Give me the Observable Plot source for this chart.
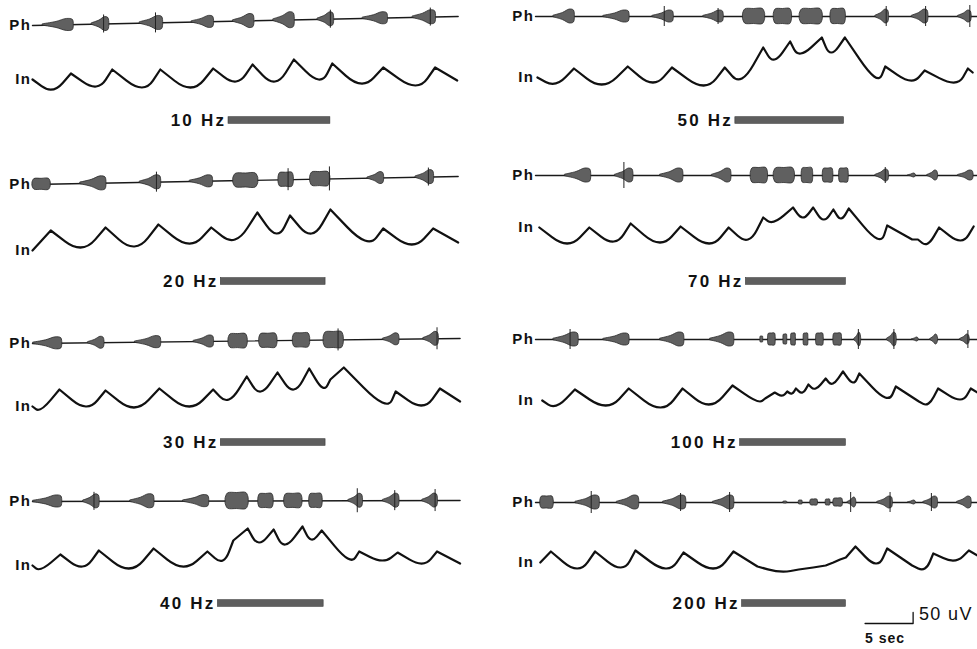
<!DOCTYPE html>
<html><head><meta charset="utf-8">
<script src="https://cdn.jsdelivr.net/npm/d3@7"></script>
<script src="https://cdn.jsdelivr.net/npm/@observablehq/plot@0.6"></script>
<style>
body{margin:0;background:#fff;}
#chart svg{display:block;}
</style></head><body><div id="chart"></div><script>
// ---- panel descriptors ----
const panelLabels = ["10 Hz","20 Hz","30 Hz","40 Hz","50 Hz","70 Hz","100 Hz","200 Hz"];
const panelCols = ["L","L","L","L","R","R","R","R"];
const panelRows = [0,1,2,3,0,1,2,3];
const stimStart = [20.4,19.6,19.6,19.3,20.8,21.9,21.3,21.5];   // s
const stimEnd   = [31.0,30.5,30.5,30.3,32.1,32.3,32.3,32.3];   // s
const phBaseStart = [-8,-6,-4,-1,1,3,0,-2];
const phBaseEnd   = [1,2,1,0,1,3,0,-2];
const traceEnd = [44.3,44.3,44.5,44.5,46,46,46,46];

// ---- In (inspiratory) traces: [time s, level] ----
const in10 = [[0,8],[2.1,-2],[4.0,14],[6.8,1],[8.3,18],[11.6,0],[13.3,18],[16.6,0],[18.8,19],[21.3,6],[22.9,23],[25.3,6],[27.2,28],[30.0,8],[31.2,24],[34.3,4],[36.5,20],[40.1,2],[41.9,20],[44.2,7]];
const in20 = [[0,-2],[1.9,18],[5.2,1],[7.6,21],[10.7,2],[13.1,24],[16.4,5],[18.6,21],[21.1,9],[23.4,36],[25.5,15],[26.8,33],[29.1,15],[31.0,39],[34.9,8],[36.5,20],[39.6,4],[41.7,20],[44.3,6]];
const in30 = [[0,3],[0.8,1],[2.8,20],[5.7,3],[7.6,19],[10.7,2],[13.2,21],[16.4,3],[18.8,20],[20.4,10],[22.3,33],[23.7,18],[25.5,37],[27.2,20],[28.8,41],[30.3,22],[31.0,30],[32.4,42],[36.9,7],[37.8,18],[40.7,4],[42.4,21],[44.5,8]];
const in40 = [[0,5],[0.8,2],[2.9,16],[5.3,4],[6.9,20],[10.2,2],[12.6,22],[15.7,4],[18.2,19],[19.9,10],[20.9,30],[22.4,42],[23.5,28],[25.1,41],[26.2,26],[28.1,44],[29.0,31],[30.1,40],[33.1,12],[34.0,19],[36.5,10],[38.0,18],[40.7,7],[42.1,19],[44.5,7]];
const in50 = [[0.2,10],[2.1,4],[4.0,19],[7.0,3],[9.6,21],[12.3,5],[14.2,20],[17.7,2],[19.7,20],[21.4,9],[23.7,40],[24.8,28],[26.5,46],[27.4,34],[29.8,50],[30.7,35],[32.2,50],[35.6,11],[36.4,21],[39.2,7],[40.5,17],[43.9,5],[45.0,19],[45.5,15]];
const in70 = [[0.4,21],[3.4,5],[5.6,21],[8.3,7],[9.9,25],[13.0,6],[15.1,22],[18.2,5],[20.1,21],[22.2,9],[23.7,31],[24.7,27],[26.8,41],[27.8,31],[28.9,41],[30.0,29],[31.0,39],[31.8,30],[32.6,40],[35.9,10],[36.6,23],[39.2,9],[39.8,9],[40.8,5],[42.0,21],[44.4,8],[45.6,22]];
const in100 = [[0.7,9],[2.1,4],[4.1,20],[7.5,4],[9.7,21],[13.2,2],[15.3,21],[18.2,5],[20.5,24],[23.2,9],[23.9,11],[24.9,17],[25.7,14],[26.2,18],[26.7,16],[27.1,21],[27.8,17],[28.4,25],[29.1,21],[30.2,31],[30.9,26],[32.0,38],[33.1,27],[33.7,36],[36.7,12],[37.5,23],[39.9,8],[40.9,6],[41.9,21],[44.4,10],[45.3,21],[46,17]];
const in200 = [[0.5,8],[1.6,19],[4.5,2],[6.2,19],[9.1,3],[10.4,20],[13.8,2],[15.4,18],[18.7,2],[20.6,19],[23.1,4],[25.5,-1],[27.4,1],[28.9,3],[30.2,5],[31.0,8],[31.7,11],[32.3,13],[33.3,24],[35.6,7],[36.6,22],[39.2,5],[40.6,2],[41.4,17],[43.7,10],[45.1,20],[46,15]];

// ---- Ph (phrenic) bursts: [start s, end s, half-amplitude, kind 0=spindle 1=block] ----
const ph10 = [[1.1,4.2,6,0],[6.2,7.9,7,0],[11.2,13.5,7,0],[16.6,18.8,6,0],[20.9,23.0,7,0],[25.1,27.2,8,0],[29.7,31.3,7,0],[34.4,36.9,6,0],[39.6,41.9,7,0]];
const ph20 = [[0,1.9,5.5,1],[5.0,7.6,7,0],[11.2,13.3,7,0],[16.4,18.7,6,0],[20.9,23.5,7,1],[25.6,27.2,7,1],[28.9,31.0,7,1],[34.9,36.5,6,0],[39.9,41.7,7,0]];
const ph30 = [[0.1,3.0,6,0],[5.8,7.4,6,0],[10.7,13.3,6,0],[16.8,18.8,6,0],[20.4,22.4,7,1],[23.6,25.5,7,1],[27.1,28.9,7,1],[30.3,32.4,8,1],[36.5,38.1,6,0],[40.7,42.2,7,0]];
const ph40 = [[0.1,3.0,6,0],[5.3,6.9,7,0],[10.2,12.6,7,0],[15.7,18.3,6,0],[20.1,22.5,8,1],[23.5,25.1,7,1],[26.2,28.1,7,1],[28.8,30.2,7,1],[32.9,34.3,7,0],[36.5,38.1,7,0],[40.6,42.1,7,0]];
const ph50 = [[1.9,4.0,7,0],[7.1,9.7,6,0],[12.2,14.3,6,0],[17.5,19.5,6,0],[21.6,23.9,7.5,1],[24.8,26.7,7.5,1],[27.5,29.9,7.5,1],[30.7,32.3,7.5,1],[35.4,36.7,7,0],[39.2,40.8,7,0],[44.0,45.3,6,0]];
const ph70 = [[3.1,5.7,7,0],[8.3,10.1,7,0],[13.0,15.3,7,0],[18.4,20.3,7,0],[22.4,24.2,7.5,1],[24.8,27.0,7.5,1],[27.7,28.9,7.5,1],[29.9,31.0,7,1],[31.6,32.6,7,1],[35.4,36.7,6,0],[38.8,39.5,2,0],[40.8,41.8,5,0],[44.0,45.5,5,0]];
const ph100 = [[1.9,4.4,7,0],[7.1,9.7,6,0],[13.0,15.4,7,0],[18.2,20.6,7,0],[23.4,23.7,3,1],[24.2,25.0,6,1],[25.8,26.2,5,1],[26.6,27.1,6,1],[27.9,28.4,6,1],[29.2,30.0,6,1],[31.0,31.9,6,1],[33.2,33.8,7,0],[36.6,37.5,7,0],[39.2,39.8,2,0],[41.1,41.8,5,0],[44.2,45.1,5,0]];
const ph200 = [[0.5,1.9,6,1],[4.2,6.6,7,0],[8.5,10.7,7,0],[13.3,15.6,7,0],[18.5,20.6,7,0],[25.8,26.2,1,1],[27.4,27.8,2,1],[28.6,29.4,3,1],[30.2,30.7,3,1],[31.0,32.0,4,1],[32.5,33.3,5,0],[35.6,37.1,6,0],[38.8,39.5,2,0],[40.4,41.8,6,0],[43.9,45.3,6,0]];

// ---- artefact spikes on Ph: [time s, half-height] ----
const spk10 = [[7.4,9],[12.8,10],[31.0,9],[41.4,9]];
const spk20 = [[12.9,10],[26.6,11],[30.9,12],[41.2,9]];
const spk30 = [[31.8,11],[42.1,11]];
const spk40 = [[6.4,9],[33.8,12],[37.7,10],[41.9,11]];
const spk50 = [[13.4,10],[19.0,8],[36.5,10],[40.6,10],[45.2,11]];
const spk70 = [[9.2,13],[36.4,8]];
const spk100 = [[3.6,10],[33.6,10],[37.3,10],[45.0,9]];
const spk200 = [[5.8,11],[15.1,9],[20.2,10],[32.8,10],[36.9,10],[41.2,9]];

// ---- scale bar ----
const scaleSec = 5, scaleSecStart = 34.3;
const scaleUV = 50, scaleUVUnits = 11;

const inTraces = [in10,in20,in30,in40,in50,in70,in100,in200];
const phBursts = [ph10,ph20,ph30,ph40,ph50,ph70,ph100,ph200];
const phSpikes = [spk10,spk20,spk30,spk40,spk50,spk70,spk100,spk200];

// ---- layout constants (y units) ----
const IN_BASE = -70, BAR_Y = -103, BAR_HALF = 3.3;

// custom curve: sharp peaks, broad rounded troughs (pen-recorder look)
function penCurve(context) {
  let pts;
  const f = 0.55;
  return {
    areaStart() {}, areaEnd() {},
    lineStart() { pts = []; },
    point(x, y) { pts.push([+x, +y]); },
    lineEnd() {
      const n = pts.length; if (!n) return;
      context.moveTo(pts[0][0], pts[0][1]);
      for (let i = 1; i < n - 1; i++) {
        const [x0, y0] = pts[i-1], [x1, y1] = pts[i], [x2, y2] = pts[i+1];
        if (y1 > y0 && y1 > y2) {
          const avg0 = (y0 + y2) / 2;
          const yv = (y1 - 0.5 * f * avg0) / (1 - 0.5 * f);   // virtual corner: curve bottom meets the trough
          const ax = x1 + (x0 - x1) * f, ay = yv + (y0 - yv) * f;
          const bx = x1 + (x2 - x1) * f, by = yv + (y2 - yv) * f;
          context.lineTo(ax, ay);
          context.quadraticCurveTo(x1, yv, bx, by);
        } else context.lineTo(x1, y1);
      }
      if (n > 1) context.lineTo(pts[n-1][0], pts[n-1][1]);
    }
  };
}

// ---- build tables ----
const baseAt = (i, t) => phBaseStart[i] + (phBaseEnd[i] - phBaseStart[i]) * t / traceEnd[i];
const phLine = [], inLine = [], burstPts = [], spikes = [], bars = [], chLabels = [];
panelLabels.forEach((lab, i) => {
  const f = {col: panelCols[i], row: panelRows[i], p: i};
  phLine.push({...f, t: 0, y: phBaseStart[i]}, {...f, t: traceEnd[i], y: phBaseEnd[i]});
  inTraces[i].forEach(([t, v]) => inLine.push({...f, t, y: IN_BASE + v}));
  phBursts[i].forEach(([s, e, a, k], j) => {
    const d = e - s, yb = baseAt(i, (s + e) / 2);
    const shape = k === 0
      ? [[s,0.12],[s+0.45*d,0.5],[s+0.8*d,1],[e,0.85],[e+0.1,0.1]]
      : [[s,0.35],[s+0.1*d,0.95],[s+0.5*d,1],[e-0.1*d,1],[e,0.35]];
    shape.forEach(([t, w]) => burstPts.push({...f, id: i*100 + j, t, lo: yb - w*a, hi: yb + w*a}));
  });
  phSpikes[i].forEach(([t, h]) => {
    const yb = baseAt(i, t);
    spikes.push({...f, t, y1: yb - h, y2: yb + h});
  });
  bars.push({...f, x1: stimStart[i], x2: stimEnd[i], label: lab});
  chLabels.push({...f, t: -0.1, y: phBaseStart[i], text: "Ph"});
  chLabels.push({...f, t: -0.1, y: IN_BASE + inTraces[i][0][1], text: "In"});
});
const sb = {col: "R", row: 3};
const scaleLine = [
  {...sb, t: scaleSecStart, y: BAR_Y - 20},
  {...sb, t: scaleSecStart + scaleSec, y: BAR_Y - 20},
  {...sb, t: scaleSecStart + scaleSec, y: BAR_Y - 20 + scaleUVUnits}
];

const chart = Plot.plot({
  width: 977, height: 649,
  marginLeft: 32, marginRight: 0, marginTop: 0, marginBottom: 5,
  fx: {domain: ["L","R"], paddingInner: 0.1213, paddingOuter: 0, axis: null},
  fy: {domain: [0,1,2,3], paddingInner: 0, paddingOuter: 0, axis: null},
  x: {domain: [0, 46], axis: null},
  y: {domain: [-144, 17], axis: null},
  style: {fontFamily: "'Liberation Sans', Arial, Helvetica, sans-serif", background: "#fff"},
  marks: [
    Plot.line(phLine, {x: "t", y: "y", z: "p", fx: "col", fy: "row", stroke: "#1a1a1a", strokeWidth: 1.4}),
    Plot.areaY(burstPts, {x: "t", y1: "lo", y2: "hi", z: "id", fx: "col", fy: "row", fill: "#606060", stroke: "#2a2a2a", strokeWidth: 0.8, curve: "catmull-rom"}),
    Plot.ruleX(spikes, {x: "t", y1: "y1", y2: "y2", fx: "col", fy: "row", stroke: "#222", strokeWidth: 1}),
    Plot.line(inLine, {x: "t", y: "y", z: "p", fx: "col", fy: "row", stroke: "#111", strokeWidth: 2.2, curve: penCurve, strokeLinejoin: "round"}),
    Plot.rect(bars, {x1: "x1", x2: "x2", y1: BAR_Y - BAR_HALF, y2: BAR_Y + BAR_HALF, fx: "col", fy: "row", fill: "#5e5e5e", stroke: "#3a3a3a", strokeWidth: 0.6}),
    Plot.text(bars, {x: d => d.x1 - 0.25, y: BAR_Y, text: "label", fx: "col", fy: "row", textAnchor: "end", fontSize: 17, fontWeight: "bold", fill: "#111"}),
    Plot.text(chLabels, {x: "t", y: "y", text: "text", fx: "col", fy: "row", textAnchor: "end", fontSize: 15, fontWeight: "bold", fill: "#111"}),
    Plot.line(scaleLine, {x: "t", y: "y", fx: "col", fy: "row", stroke: "#111", strokeWidth: 1.3}),
    Plot.text([{...sb, t: scaleSecStart + scaleSec + 0.6, y: BAR_Y - 20 + scaleUVUnits - 2, text: `${scaleUV} uV`}], {x: "t", y: "y", text: "text", fx: "col", fy: "row", textAnchor: "start", fontSize: 18, fill: "#111"}),
    Plot.text([{...sb, t: scaleSecStart, y: BAR_Y - 35, text: `${scaleSec} sec`}], {x: "t", y: "y", text: "text", fx: "col", fy: "row", textAnchor: "start", fontSize: 14, fontWeight: "bold", fill: "#111"})
  ]
});
// letter spacing of the typewriter-like labels
d3.select(chart).selectAll("text").each(function() {
  const s = this.textContent;
  const ls = /Hz$/.test(s) ? 2.2 : (s === "Ph" || s === "In") ? 1.5 : /uV$/.test(s) ? 1.4 : /sec$/.test(s) ? 1 : 0;
  if (ls) this.style.letterSpacing = ls + "px";
});
document.getElementById("chart").appendChild(chart);
</script></body></html>
